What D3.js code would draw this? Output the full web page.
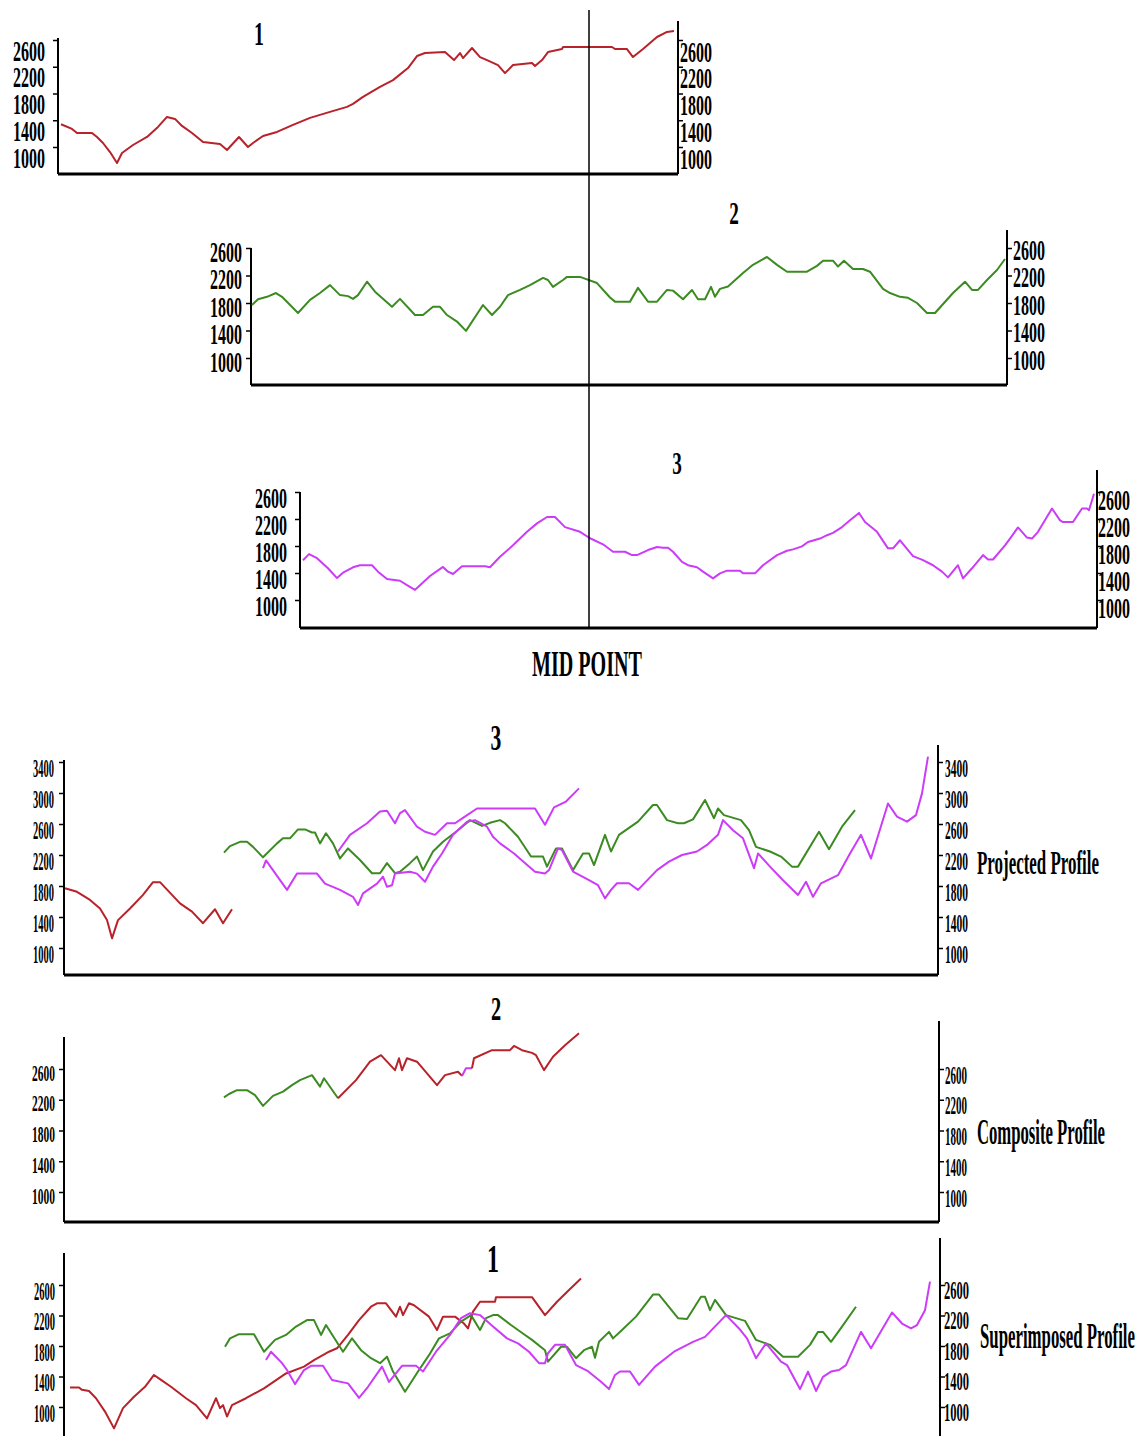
<!DOCTYPE html>
<html>
<head>
<meta charset="utf-8">
<script src="https://cdn.jsdelivr.net/npm/d3@7"></script>
<style>
  body { margin: 0; background: #fff; }
  svg { display: block; }
  text { font-family: "Liberation Serif", "Times New Roman", serif; fill: #000; }
</style>
</head>
<body>
<div id="chart"></div>
<script>
// elevation tick values
const ticksShort = [1000, 1400, 1800, 2200, 2600];
const ticksTall = [1000, 1400, 1800, 2200, 2600, 3000, 3400];

// mid point, as distance along profile 1
const midPoint = 531;

// profile 1 [distance, elevation]
const profile1 = [[3,1340],[14,1270],[19,1210],[34,1210],[39,1150],[45,1060],[52,925],[59,760],[64,910],[75,1030],[89,1150],[100,1300],[109,1450],[117,1420],[124,1315],[134,1210],[145,1075],[162,1045],[169,955],[181,1150],[190,1000],[195,1060],[205,1165],[219,1225],[235,1330],[252,1435],[272,1525],[289,1600],[295,1645],[305,1750],[322,1900],[335,2000],[350,2180],[359,2360],[367,2405],[387,2420],[396,2300],[402,2405],[405,2330],[414,2480],[422,2345],[429,2300],[440,2225],[447,2105],[455,2225],[474,2255],[477,2210],[484,2300],[490,2420],[504,2465],[505,2495],[554,2495],[557,2465],[569,2465],[575,2345],[585,2465],[599,2645],[609,2720],[616,2735]];

// profile 2
const profile2 = [[1,1770],[7,1855],[16,1890],[25,1945],[31,1890],[47,1655],[59,1845],[69,1945],[79,2060],[89,1915],[97,1900],[102,1860],[107,1915],[116,2110],[124,1965],[141,1745],[149,1860],[164,1625],[172,1625],[182,1745],[189,1745],[196,1625],[206,1530],[215,1395],[232,1770],[241,1625],[249,1745],[257,1915],[269,1990],[279,2060],[292,2165],[297,2135],[302,2035],[312,2135],[316,2180],[329,2180],[346,2090],[359,1880],[364,1820],[379,1820],[387,2020],[397,1820],[406,1820],[416,1990],[422,1980],[432,1855],[441,1990],[447,1855],[454,1855],[460,2035],[464,1890],[469,2005],[477,2040],[492,2235],[502,2355],[516,2470],[526,2355],[536,2255],[556,2255],[566,2340],[572,2415],[582,2415],[587,2330],[593,2415],[602,2295],[612,2295],[619,2255],[632,2005],[639,1945],[649,1890],[657,1875],[666,1800],[676,1655],[684,1655],[702,1945],[714,2110],[721,1990],[727,1990],[736,2135],[746,2280],[754,2440]];

// profile 3
const profile3 = [[3,1590],[9,1680],[17,1620],[28,1470],[37,1325],[43,1405],[53,1485],[60,1515],[72,1515],[78,1420],[87,1310],[100,1285],[107,1220],[115,1150],[120,1220],[130,1355],[143,1490],[148,1420],[153,1385],[162,1500],[185,1500],[190,1485],[200,1640],[213,1810],[227,2010],[237,2135],[247,2230],[255,2230],[265,2080],[280,2010],[290,1915],[303,1825],[313,1715],[325,1715],[332,1665],[337,1665],[348,1740],[357,1785],[363,1775],[368,1775],[373,1715],[382,1565],[388,1515],[397,1485],[403,1420],[413,1320],[420,1395],[427,1435],[440,1435],[443,1395],[455,1395],[463,1515],[477,1665],[487,1730],[493,1750],[502,1795],[508,1860],[520,1910],[527,1960],[533,1995],[542,2080],[550,2180],[559,2290],[565,2155],[577,2010],[588,1765],[593,1765],[600,1885],[613,1650],[623,1590],[633,1515],[642,1420],[648,1335],[658,1515],[663,1320],[672,1470],[683,1665],[688,1600],[693,1600],[705,1810],[710,1910],[718,2075],[727,1925],[732,1910],[738,2010],[752,2355],[760,2180],[763,2155],[773,2155],[782,2355],[787,2355],[789,2330],[794,2575]];

// projected profile
const projRed = [[1,1770],[13,1725],[26,1620],[36,1510],[43,1360],[48,1125],[54,1360],[66,1510],[79,1685],[89,1850],[96,1850],[116,1575],[128,1470],[139,1320],[151,1500],[159,1320],[168,1500]];
const projGreen = [[160,2230],[166,2315],[176,2370],[183,2370],[189,2305],[199,2170],[213,2350],[219,2415],[226,2415],[234,2530],[241,2530],[248,2490],[251,2490],[256,2350],[262,2480],[269,2350],[276,2155],[284,2285],[296,2135],[308,1965],[316,1965],[323,2095],[331,1965],[336,1985],[346,2095],[353,2180],[359,2005],[369,2245],[379,2370],[394,2520],[406,2650],[418,2575],[426,2615],[436,2650],[441,2610],[454,2435],[467,2180],[479,2180],[483,2050],[492,2285],[498,2285],[509,2005],[519,2220],[525,2220],[530,2070],[541,2460],[547,2245],[555,2460],[574,2630],[589,2845],[593,2845],[603,2650],[614,2610],[620,2610],[629,2660],[641,2910],[650,2675],[654,2800],[660,2715],[677,2650],[685,2520],[692,2305],[706,2245],[717,2180],[728,2050],[734,2050],[755,2500],[765,2275],[778,2565],[791,2780]];
const projMagentaLow = [[199,2030],[202,2130],[223,1750],[233,1960],[253,1960],[261,1830],[276,1750],[289,1660],[294,1555],[299,1705],[313,1830],[319,1920],[323,1790],[328,1810],[331,1960],[346,1985],[353,1960],[361,1855],[369,2050],[378,2220],[389,2460],[403,2630],[411,2650],[423,2565],[429,2435],[436,2350],[450,2220],[471,1985],[481,1960],[485,2005],[494,2285],[498,2265],[509,1985],[525,1875],[534,1810],[541,1640],[547,1750],[553,1835],[565,1835],[574,1750],[593,2005],[605,2115],[618,2200],[633,2245],[643,2330],[654,2460],[659,2650],[669,2520],[679,2415],[690,2030],[694,2220],[706,2050],[719,1875],[734,1685],[742,1855],[749,1660],[757,1835],[774,1940],[786,2220],[797,2460],[807,2155],[824,2865],[833,2695],[843,2630],[852,2715],[858,2995],[864,3470]];
const projMagentaHigh = [[274,2245],[286,2460],[303,2610],[316,2760],[323,2770],[331,2610],[336,2740],[341,2780],[353,2565],[361,2500],[371,2460],[383,2610],[391,2610],[399,2680],[413,2800],[471,2800],[481,2590],[490,2815],[502,2890],[515,3060]];

// composite profile
const compGreen = [[160,2230],[165,2275],[173,2325],[183,2325],[191,2260],[199,2120],[209,2250],[219,2305],[228,2390],[236,2455],[248,2520],[256,2370],[260,2480],[274,2220]];
const compRedA = [[274,2220],[292,2455],[306,2695],[317,2780],[331,2585],[335,2740],[338,2585],[343,2740],[353,2695],[373,2390],[381,2520],[394,2565],[398,2510]];
const compMagenta = [[398,2510],[402,2610],[408,2610]];
const compRedB = [[408,2610],[410,2740],[428,2845],[446,2845],[450,2900],[458,2845],[468,2810],[472,2780],[480,2585],[489,2760],[501,2910],[515,3065]];

// superimposed profile
const supRed = [[6,1255],[15,1255],[18,1225],[25,1210],[32,1115],[41,940],[50,720],[59,985],[70,1135],[81,1265],[90,1420],[97,1355],[107,1265],[122,1115],[132,1025],[143,850],[152,1115],[156,985],[159,1025],[163,875],[168,1025],[182,1115],[200,1245],[222,1440],[240,1530],[250,1615],[265,1725],[273,1770],[284,1945],[295,2140],[307,2315],[313,2360],[322,2360],[332,2185],[336,2315],[339,2205],[345,2360],[350,2335],[365,2185],[373,2010],[379,2185],[391,2185],[400,2095],[404,2030],[409,2250],[416,2380],[431,2380],[432,2440],[468,2440],[481,2205],[493,2380],[505,2535],[517,2685]];
const supGreen = [[161,1790],[166,1900],[175,1955],[190,1955],[200,1725],[211,1880],[222,1945],[232,2055],[243,2140],[250,2140],[257,1945],[262,2075],[279,1725],[288,1900],[297,1745],[307,1640],[316,1575],[323,1660],[329,1465],[341,1200],[354,1465],[365,1680],[375,1900],[386,1965],[397,2120],[407,2205],[416,2010],[422,2165],[429,2205],[434,2205],[447,2075],[461,1945],[468,1880],[481,1745],[484,1595],[497,1790],[503,1790],[512,1640],[520,1745],[528,1790],[531,1645],[535,1855],[545,1985],[549,1900],[558,2010],[572,2185],[589,2475],[595,2475],[614,2165],[623,2155],[637,2445],[641,2445],[646,2270],[651,2405],[662,2205],[667,2185],[681,2130],[692,1880],[706,1815],[719,1660],[734,1660],[746,1815],[754,1985],[759,1985],[767,1855],[778,2055],[792,2315]];
const supMagenta = [[202,1615],[207,1725],[218,1575],[223,1485],[231,1300],[240,1485],[247,1540],[259,1540],[268,1355],[284,1310],[295,1120],[304,1265],[318,1530],[325,1330],[338,1540],[352,1540],[359,1465],[372,1725],[386,1945],[397,2165],[406,2230],[416,2205],[429,2055],[443,1900],[454,1835],[465,1725],[475,1575],[481,1575],[484,1705],[491,1815],[501,1815],[512,1550],[524,1470],[537,1330],[545,1235],[551,1420],[556,1465],[566,1465],[575,1290],[591,1530],[610,1725],[629,1855],[641,1920],[662,2205],[675,2030],[683,1900],[692,1640],[702,1835],[717,1595],[723,1550],[736,1235],[744,1465],[752,1210],[759,1395],[767,1465],[775,1485],[782,1550],[797,1985],[807,1770],[828,2240],[838,2095],[847,2030],[853,2075],[861,2270],[866,2645]];

const RED = '#b8222a', GREEN = '#3c8b22', MAGENTA = '#cc3cf8';

const svg = d3.select('#chart').append('svg')
  .attr('width', 1140)
  .attr('height', 1436);

// squeeze a text horizontally to a target width (condensed serif look)
function squeeze(sel, width, xPos) {
  sel.each(function() {
    const sx = width / this.getComputedTextLength();
    d3.select(this)
      .attr('x', xPos / sx)
      .attr('transform', `scale(${sx},1)`);
  });
}

function drawPanel(cfg) {
  const x = d3.scaleLinear().domain([0, cfg.span]).range([cfg.x0, cfg.x1]);
  const y = d3.scaleLinear().domain([1000, 2600]).range([cfg.y1000, cfg.y2600]);
  const g = svg.append('g');

  // axis lines
  g.append('line')
    .attr('x1', cfg.x0).attr('x2', cfg.x0)
    .attr('y1', cfg.leftTop).attr('y2', cfg.bottom)
    .attr('stroke', '#000').attr('stroke-width', 2);
  g.append('line')
    .attr('x1', cfg.xr).attr('x2', cfg.xr)
    .attr('y1', cfg.rightTop).attr('y2', cfg.bottom)
    .attr('stroke', '#000').attr('stroke-width', 2);
  if (cfg.bottom < 1436) {
    g.append('line')
      .attr('x1', cfg.x0).attr('x2', cfg.xr)
      .attr('y1', cfg.bottom).attr('y2', cfg.bottom)
      .attr('stroke', '#000').attr('stroke-width', 3);
  }

  const left = g.append('g')
    .attr('transform', `translate(${cfg.x0},0)`)
    .call(d3.axisLeft(y).tickValues(cfg.ticks).tickSize(5).tickFormat(d3.format('d')));
  left.select('.domain').remove();
  left.selectAll('line').attr('stroke-width', 1.5);
  left.selectAll('text')
    .attr('dy', cfg.lDy)
    .style('font-size', cfg.fs + 'px')
    .style('font-weight', 'bold')
    .call(squeeze, cfg.lW, -cfg.lGap);

  const right = g.append('g')
    .attr('transform', `translate(${cfg.xr},0)`)
    .call(d3.axisRight(y).tickValues(cfg.ticks).tickSize(5).tickFormat(d3.format('d')));
  right.select('.domain').remove();
  right.selectAll('line').attr('stroke-width', 1.5);
  right.selectAll('text')
    .attr('dy', cfg.rDy)
    .style('font-size', (cfg.rfs || cfg.fs) + 'px')
    .style('font-weight', 'bold')
    .call(squeeze, cfg.rW, cfg.rGap);

  const line = d3.line().x(d => x(d[0])).y(d => y(d[1]));
  cfg.series.forEach(s => {
    g.append('path')
      .datum(s.data)
      .attr('d', line)
      .attr('fill', 'none')
      .attr('stroke', s.color)
      .attr('stroke-width', 2)
      .attr('stroke-linejoin', 'round');
  });

  g.append('text')
    .attr('transform', `translate(${cfg.title.x},${cfg.title.y}) scale(0.6,1)`)
    .attr('text-anchor', 'middle')
    .style('font-size', cfg.title.fs + 'px')
    .style('font-weight', 'bold')
    .text(cfg.title.text);

  if (cfg.label) {
    g.append('g')
      .attr('transform', `translate(0,${cfg.label.y})`)
      .append('text')
      .style('font-size', cfg.label.fs + 'px')
      .style('font-weight', 'bold')
      .text(cfg.label.text)
      .call(squeeze, cfg.label.w, cfg.label.x);
  }
  return {x, y};
}

const p1 = drawPanel({
  span: 620, x0: 58, x1: 678, xr: 678, y1000: 147, y2600: 40, bottom: 174, leftTop: 38, rightTop: 21,
  ticks: ticksShort, fs: 30, lW: 32, rW: 32, lGap: 13, lDy: 20, rGap: 2, rDy: 21,
  series: [{data: profile1, color: RED}],
  title: {text: '1', x: 259, y: 45, fs: 33},
});

drawPanel({
  span: 756, x0: 251, x1: 1007, xr: 1007, y1000: 358, y2600: 248, bottom: 385, leftTop: 248, rightTop: 230,
  ticks: ticksShort, fs: 30, lW: 32, rW: 32, lGap: 9, lDy: 13, rGap: 6, rDy: 11,
  series: [{data: profile2, color: GREEN}],
  title: {text: '2', x: 734, y: 224, fs: 32},
});

drawPanel({
  span: 797, x0: 300, x1: 1097, xr: 1097, y1000: 600, y2600: 492, bottom: 628, leftTop: 492, rightTop: 470,
  ticks: ticksShort, fs: 30, lW: 32, rW: 32, lGap: 13, lDy: 15, rGap: 1, rDy: 17,
  series: [{data: profile3, color: MAGENTA}],
  title: {text: '3', x: 677, y: 474, fs: 32},
});

// mid point marker
svg.append('line')
  .attr('x1', p1.x(midPoint)).attr('x2', p1.x(midPoint))
  .attr('y1', 10).attr('y2', 628)
  .attr('stroke', '#000').attr('stroke-width', 1.5);
svg.append('g')
  .attr('transform', 'translate(0,676)')
  .append('text')
  .style('font-size', '36px')
  .style('font-weight', 'bold')
  .text('MID POINT')
  .call(squeeze, 110, p1.x(midPoint) - 57);

drawPanel({
  span: 874, x0: 64, x1: 938, xr: 938, y1000: 948, y2600: 824, bottom: 975, leftTop: 760, rightTop: 745,
  ticks: ticksTall, fs: 26, lW: 21, rW: 23, lGap: 10, lDy: 14, rGap: 7, rDy: 14,
  series: [
    {data: projRed, color: RED},
    {data: projGreen, color: GREEN},
    {data: projMagentaLow, color: MAGENTA},
    {data: projMagentaHigh, color: MAGENTA},
  ],
  title: {text: '3', x: 496, y: 750, fs: 36},
  label: {text: 'Projected Profile', x: 977, y: 874, w: 122, fs: 33},
});

drawPanel({
  span: 874, x0: 64, x1: 938, xr: 939, y1000: 1192, y2600: 1069, bottom: 1222, leftTop: 1037, rightTop: 1021,
  ticks: ticksShort, fs: 24, lW: 23, rW: 22, rfs: 25, lGap: 9, lDy: 11, rGap: 6, rDy: 14,
  series: [
    {data: compGreen, color: GREEN},
    {data: compRedA, color: RED},
    {data: compMagenta, color: MAGENTA},
    {data: compRedB, color: RED},
  ],
  title: {text: '2', x: 496, y: 1020, fs: 34},
  label: {text: 'Composite Profile', x: 977, y: 1144, w: 128, fs: 35},
});

drawPanel({
  span: 874, x0: 64, x1: 938, xr: 940, y1000: 1407, y2600: 1285, bottom: 1436, leftTop: 1253, rightTop: 1238,
  ticks: ticksShort, fs: 25, lW: 21, rW: 25, rfs: 25, lGap: 9, lDy: 14, rGap: 4, rDy: 13,
  series: [
    {data: supRed, color: RED},
    {data: supGreen, color: GREEN},
    {data: supMagenta, color: MAGENTA},
  ],
  title: {text: '1', x: 493, y: 1272, fs: 40},
  label: {text: 'Superimposed Profile', x: 980, y: 1348, w: 155, fs: 36},
});
</script>
</body>
</html>
